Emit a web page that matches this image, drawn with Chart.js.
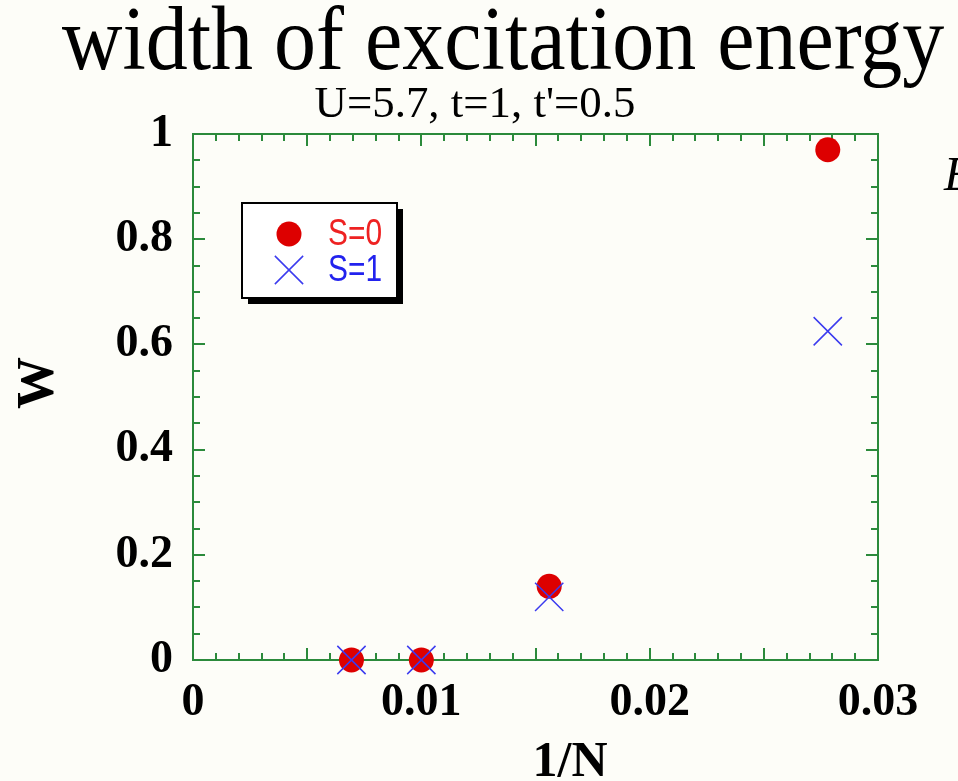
<!DOCTYPE html>
<html><head><meta charset="utf-8">
<script src="https://cdn.jsdelivr.net/npm/chart.js@4.4.1/dist/chart.umd.min.js"></script>
<style>
html,body{margin:0;padding:0;background:#fdfdf8;overflow:hidden;width:958px;height:781px;}
#wrap{position:relative;width:958px;height:781px;overflow:hidden;}
canvas{position:absolute;left:0;top:0;}
.t{position:absolute;white-space:nowrap;color:#000;font-family:"Liberation Serif","Times New Roman",serif;line-height:1;}
</style></head><body>
<div id="wrap">
<canvas id="c" width="958" height="781"></canvas>
<div class="t" id="title" style="font-size:84px;left:503px;top:-3px;transform:translateX(-50%) scale(1,1.08)">width of excitation energy</div>
<div class="t" id="subtitle" style="font-size:44px;left:475px;top:81px;transform:translateX(-50%) scale(1.02,1)">U=5.7, t=1, t'=0.5</div>
<div class="t" id="ytitle" style="font-size:52px;font-weight:bold;left:36px;top:383px;transform:translate(-50%,-50%) rotate(-90deg)">W</div>
<div class="t" id="xtitle" style="font-size:50px;font-weight:bold;left:570px;top:734px;transform:translateX(-50%)">1/N</div>
<div class="t" id="edge" style="font-size:48px;font-style:italic;left:944px;top:150px;">E</div>
</div>
<script>
// ---- data ----
const invN = [0.00694, 0.0100, 0.0156, 0.0278];      // 1/N
const wS0  = [0, 0, 0.14, 0.97];                      // S=0
const wS1  = [0, 0, 0.12, 0.625];                     // S=1
const seriesLabels = ['S=0', 'S=1'];
const xTickLabels = ['0', '0.01', '0.02', '0.03'];
const yTickLabels = ['0', '0.2', '0.4', '0.6', '0.8', '1'];

const GREEN = '#2b8a3b';
const RED = '#dd0000';
const BLUE = '#3b3bef';
const SERIF = '"Liberation Serif","Times New Roman",serif';

const framePlugin = {
  id: 'frame',
  beforeDatasetsDraw(chart) {
    const {ctx, chartArea: a, scales: {x, y}} = chart;
    ctx.save();
    ctx.strokeStyle = GREEN;
    ctx.lineWidth = 2;
    ctx.strokeRect(a.left, a.top, a.right - a.left, a.bottom - a.top);
    ctx.beginPath();
    for (let k = 0; k <= 30; k++) {
      const px = Math.round(x.getPixelForValue(k * 0.001));
      const len = k % 5 === 0 ? 12 : 7;
      ctx.moveTo(px, a.bottom); ctx.lineTo(px, a.bottom - len);
      ctx.moveTo(px, a.top); ctx.lineTo(px, a.top + len);
    }
    for (let k = 0; k <= 20; k++) {
      const py = Math.round(y.getPixelForValue(k * 0.05));
      const len = k % 4 === 0 ? 12 : 7;
      ctx.moveTo(a.left, py); ctx.lineTo(a.left + len, py);
      ctx.moveTo(a.right, py); ctx.lineTo(a.right - len, py);
    }
    ctx.stroke();
    ctx.restore();
  }
};

const legendPlugin = {
  id: 'boxLegend',
  afterDatasetsDraw(chart) {
    const {ctx, chartArea: a} = chart;
    const bx = a.left + 49, by = a.top + 69, bw = 155, bh = 95;
    ctx.save();
    ctx.fillStyle = '#000';
    ctx.fillRect(bx + 6, by + 6, bw, bh);
    ctx.fillStyle = '#ffffff';
    ctx.fillRect(bx, by, bw, bh);
    ctx.strokeStyle = '#000';
    ctx.lineWidth = 2;
    ctx.strokeRect(bx, by, bw, bh);
    const ds = chart.data.datasets;
    const cx = bx + 47;
    const y0 = by + 31, y1 = by + 67;
    ctx.fillStyle = ds[0].backgroundColor;
    ctx.beginPath(); ctx.arc(cx, y0, ds[0].pointRadius, 0, Math.PI * 2); ctx.fill();
    const h = ds[1].pointRadius * Math.SQRT1_2;
    ctx.strokeStyle = ds[1].borderColor; ctx.lineWidth = ds[1].borderWidth;
    ctx.beginPath();
    ctx.moveTo(cx - h, y1 - h); ctx.lineTo(cx + h, y1 + h);
    ctx.moveTo(cx - h, y1 + h); ctx.lineTo(cx + h, y1 - h);
    ctx.stroke();
    ctx.font = '36px "Liberation Sans","DejaVu Sans",sans-serif';
    ctx.textBaseline = 'middle';
    ctx.textAlign = 'left';
    [[y0, '#ee2222', 0], [y1, '#2222ee', 1]].forEach(([ty, col, i]) => {
      ctx.save();
      ctx.translate(bx + 86, ty + 1);
      ctx.scale(0.83, 1);
      ctx.fillStyle = col;
      ctx.fillText(seriesLabels[i], 0, 0);
      ctx.restore();
    });
    ctx.restore();
  }
};

new Chart(document.getElementById('c').getContext('2d'), {
  type: 'scatter',
  data: {
    datasets: [
      { label: seriesLabels[0], data: invN.map((v, i) => ({x: v, y: wS0[i]})),
        pointStyle: 'circle', pointRadius: 12.5, backgroundColor: RED, borderColor: RED,
        borderWidth: 0, order: 1, clip: false },
      { label: seriesLabels[1], data: invN.map((v, i) => ({x: v, y: wS1[i]})),
        pointStyle: 'crossRot', pointRadius: 20, backgroundColor: BLUE, borderColor: BLUE,
        borderWidth: 1.5, order: 0, clip: false }
    ]
  },
  options: {
    responsive: false, animation: false, devicePixelRatio: 1, events: [],
    layout: { padding: { top: 134, right: 80, left: 0, bottom: 0 } },
    plugins: { legend: { display: false }, tooltip: { enabled: false }, title: { display: false } },
    scales: {
      x: {
        type: 'linear', min: 0, max: 0.03,
        ticks: { stepSize: 0.01, autoSkip: false, maxRotation: 0, padding: 16, color: '#000',
          font: { family: SERIF, size: 46, weight: 'bold' },
          callback: (v, i) => xTickLabels[i] },
        grid: { display: false, drawTicks: false },
        border: { display: false },
        title: { display: false },
        afterFit(s) { s.height = 121; s.paddingLeft = 0; s.paddingRight = 0; }
      },
      y: {
        type: 'linear', min: 0, max: 1,
        ticks: { stepSize: 0.2, autoSkip: false, padding: 20, color: '#000',
          font: { family: SERIF, size: 46, weight: 'bold' },
          callback: (v, i) => yTickLabels[i] },
        grid: { display: false, drawTicks: false },
        border: { display: false },
        title: { display: false },
        afterFit(s) { s.width = 193; s.paddingTop = 0; s.paddingBottom = 0; }
      }
    }
  },
  plugins: [framePlugin, legendPlugin]
});
</script>
</body></html>
